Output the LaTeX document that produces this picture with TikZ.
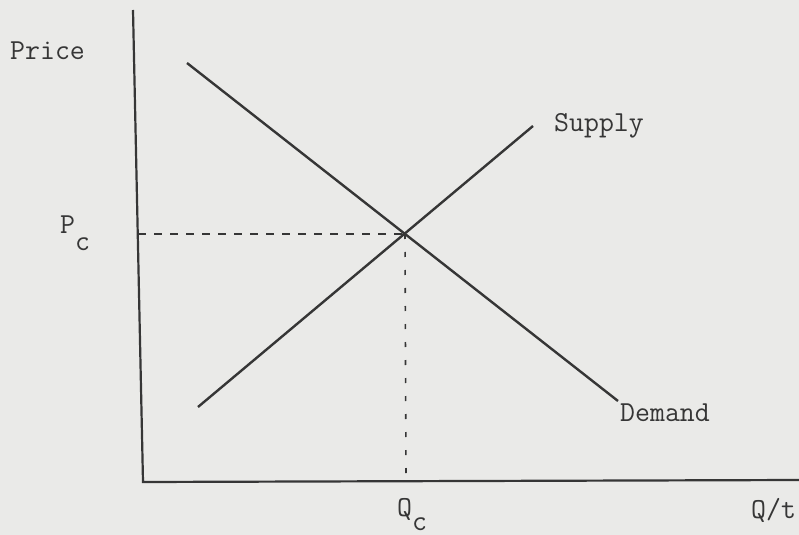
\documentclass[tikz,border=0pt]{standalone}
\begin{document}
\begin{tikzpicture}[x=1bp,y=-1bp,
  lbl/.style={font=\ttfamily\fontsize{29bp}{33bp}\selectfont, text=ink, inner sep=0pt, anchor=base west},
  axisline/.style={draw=ink, line width=2.2bp},
  curve/.style={draw=ink, line width=2.4bp},
  guide/.style={draw=ink, line width=1.6bp, dash pattern=on 8bp off 8bp}]
\definecolor{paper}{HTML}{EAEAE8}
\definecolor{ink}{HTML}{363636}
\useasboundingbox (0,0) rectangle (799,535);
\fill[paper] (0,0) rectangle (799,535);
% axes
\coordinate (ytop) at (133,10);
\coordinate (o) at (143,482);
\coordinate (xend) at (799,480);
\draw[axisline] (ytop) -- (o) -- (xend);
% curves
\coordinate (d1) at (187,63);
\coordinate (d2) at (618,401);
\coordinate (s1) at (198,407);
\coordinate (s2) at (533,126);
\draw[curve] (d1) -- (d2);
\draw[curve] (s1) -- (s2);
% equilibrium
\coordinate (eq) at (405,234);
\coordinate (py) at (138,234);
\coordinate (qx) at (406,481);
\draw[guide] (py) -- (eq);
\draw[guide, dash pattern=on 5bp off 13bp] (eq) -- (qx);
% labels
\node[lbl] (price) at (10,60) {Price};
\node[lbl] (pc) at (60,234) {P\raisebox{-17bp}{c}};
\node[lbl] (supply) at (554,132) {Supply};
\node[lbl] (demand) at (620,421) {Demand};
\node[lbl] (qc) at (397,516) {Q\raisebox{-14bp}{c}};
\node[lbl] (qt) at (751,518) {Q/t};
\end{tikzpicture}
\end{document}
